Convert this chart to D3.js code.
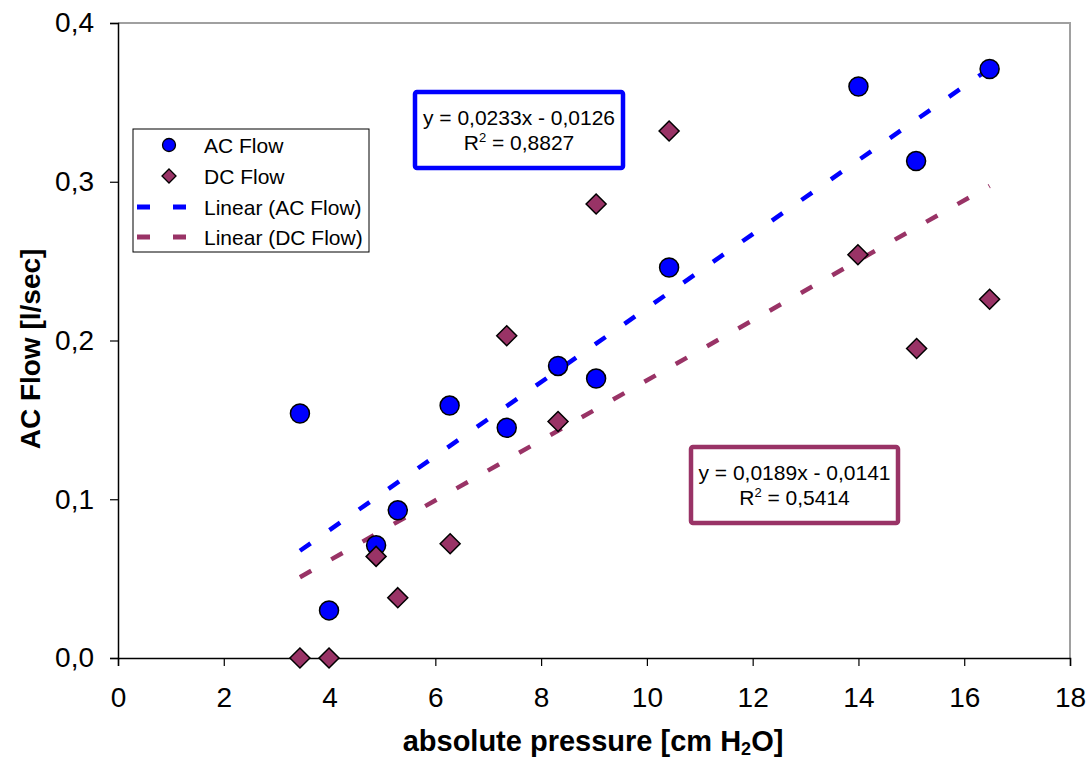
<!DOCTYPE html>
<html><head><meta charset="utf-8">
<script src="https://cdn.jsdelivr.net/npm/d3@7"></script>
<style>body{margin:0;background:#fff}svg{display:block;font-family:"Liberation Sans",Arial,sans-serif}</style>
</head><body><svg id="c" width="1088" height="760"></svg>
<script>
const acX = [3.44, 3.99, 4.88, 5.29, 6.27, 7.35, 8.32, 9.04, 10.42, 14.0, 15.09, 16.48];
const acY = [0.154, 0.030, 0.071, 0.093, 0.159, 0.145, 0.184, 0.176, 0.246, 0.360, 0.313, 0.371];
const dcX = [3.44, 3.99, 4.88, 5.29, 6.28, 7.35, 8.32, 9.04, 10.42, 13.99, 15.1, 16.48];
const dcY = [0.0, 0.0, 0.064, 0.038, 0.072, 0.203, 0.149, 0.286, 0.332, 0.254, 0.195, 0.226];
const acFit = {slope: 0.0233, intercept: -0.0126, r2: "0,8827", label: "y = 0,0233x - 0,0126"};
const dcFit = {slope: 0.0189, intercept: -0.0141, r2: "0,5414", label: "y = 0,0189x - 0,0141"};
const xTicks = [0,2,4,6,8,10,12,14,16,18];
const yTicks = [0,0.1,0.2,0.3,0.4];
const seriesNames = ["AC Flow", "DC Flow", "Linear (AC Flow)", "Linear (DC Flow)"];

const blue = "#0000FF", purple = "#993366";
const svg = d3.select("#c");
const x = d3.scaleLinear().domain([0,18]).range([118,1070]);
const y = d3.scaleLinear().domain([0,0.4]).range([658,23]);
const fmtY = v => d3.format(".1f")(v).replace(".", ",");

// plot border (light gray)
svg.append("path").attr("d", `M${x(0)},${y(0.4)}H${x(18)}V${y(0)}`)
  .attr("fill","none").attr("stroke","#a0a0a0").attr("stroke-width",2);

// axes
const gx = svg.append("g").attr("transform",`translate(0,${y(0)})`)
  .call(d3.axisBottom(x).tickValues(xTicks).tickSize(8).tickPadding(21).tickFormat(d3.format("d")));
const gy = svg.append("g").attr("transform",`translate(${x(0)},0)`)
  .call(d3.axisLeft(y).tickValues(yTicks).tickSize(8).tickPadding(16).tickFormat(fmtY));
[gx, gy].forEach(g => {
  g.select(".domain").attr("stroke","#000").attr("stroke-width",1.5);
  g.selectAll(".tick line").attr("stroke","#000").attr("stroke-width",1.2);
  g.selectAll(".tick text").attr("font-size",28).attr("fill","#000").attr("font-family","Liberation Sans, Arial, sans-serif");
});

// axis titles
const xt = svg.append("text").attr("x",593).attr("y",751).attr("text-anchor","middle")
  .attr("font-size",29).attr("font-weight","bold");
xt.append("tspan").text("absolute pressure [cm H");
xt.append("tspan").attr("font-size",18).attr("dy",4).text("2");
xt.append("tspan").attr("dy",-4).text("O]");
svg.append("text").attr("transform","translate(40,349) rotate(-90)").attr("text-anchor","middle")
  .attr("font-size",28).attr("font-weight","bold").text("AC Flow [l/sec]");

// trend lines
function trend(fit, xs, color){
  const x0 = d3.min(xs), x1 = d3.max(xs);
  svg.append("line").attr("x1",x(x0)).attr("y1",y(fit.slope*x0+fit.intercept))
    .attr("x2",x(x1)).attr("y2",y(fit.slope*x1+fit.intercept))
    .attr("stroke",color).attr("stroke-width",4.5).attr("stroke-dasharray","13,23");
}
trend(acFit, acX, blue);
trend(dcFit, dcX, purple);

// markers
svg.append("g").selectAll("circle").data(acX.map((v,i)=>[v,acY[i]])).join("circle")
  .attr("cx",d=>x(d[0])).attr("cy",d=>y(d[1])).attr("r",9.5)
  .attr("fill",blue).attr("stroke","#000").attr("stroke-width",1.5);
const diamond = (cx,cy,s) => `M${cx},${cy-s}L${cx+s},${cy}L${cx},${cy+s}L${cx-s},${cy}Z`;
svg.append("g").selectAll("path").data(dcX.map((v,i)=>[v,dcY[i]])).join("path")
  .attr("d",d=>diamond(x(d[0]),y(d[1]),10))
  .attr("fill",purple).attr("stroke","#000").attr("stroke-width",1.5);

// legend
const lg = svg.append("g");
lg.append("rect").attr("x",133).attr("y",129).attr("width",236).attr("height",123)
  .attr("fill","#fff").attr("stroke","#000").attr("stroke-width",1);
const ly = [145, 176, 207, 237];
lg.append("circle").attr("cx",169).attr("cy",ly[0]).attr("r",6.5).attr("fill",blue).attr("stroke","#000").attr("stroke-width",1.3);
lg.append("path").attr("d",diamond(169,ly[1],7)).attr("fill",purple).attr("stroke","#000").attr("stroke-width",1.3);
[[blue,ly[2]],[purple,ly[3]]].forEach(([c,yy])=>{
  lg.append("line").attr("x1",137).attr("x2",186).attr("y1",yy).attr("y2",yy)
    .attr("stroke",c).attr("stroke-width",5).attr("stroke-dasharray","13,23");
});
seriesNames.forEach((n,i)=>{
  lg.append("text").attr("x",204).attr("y",ly[i]).attr("dy","0.36em").attr("font-size",21).text(n);
});

// equation boxes
function eqBox(fit, bx, by, bw, bh, color){
  const g = svg.append("g");
  g.append("rect").attr("x",bx).attr("y",by).attr("width",bw).attr("height",bh)
    .attr("rx",2).attr("fill","#fff").attr("stroke",color).attr("stroke-width",4.5);
  const cx = bx + bw/2;
  g.append("text").attr("x",cx).attr("y",by+bh*0.34).attr("dy","0.36em").attr("text-anchor","middle")
    .attr("font-size",21).text(fit.label);
  const t = g.append("text").attr("x",cx).attr("y",by+bh*0.67).attr("dy","0.36em").attr("text-anchor","middle")
    .attr("font-size",21);
  t.append("tspan").text("R");
  t.append("tspan").attr("font-size",13).attr("dy",-8).text("2");
  t.append("tspan").attr("dy",8).text(" = " + fit.r2);
}
eqBox(acFit, 415, 92, 208, 76, blue);
eqBox(dcFit, 691, 447, 207, 76, purple);
</script></body></html>
